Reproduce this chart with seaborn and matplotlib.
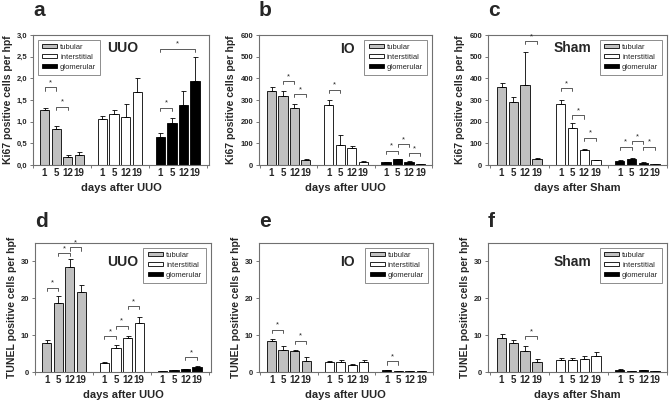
import matplotlib
matplotlib.use("Agg")
import matplotlib.pyplot as plt
import numpy as np
import pandas as pd
import seaborn as sns

sns.set_style("ticks")
plt.rcParams["font.family"] = ["Liberation Sans", "DejaVu Sans"]

DAYS = ["1", "5", "12", "19"]
CELLS = ["tubular", "interstitial", "glomerular"]
COLORS = {"tubular": "#c0c0c0", "interstitial": "#ffffff", "glomerular": "#000000"}

# mean values per cell type (tubular, interstitial, glomerular), days 1/5/12/19
ki67_uuo = [[1.26, 0.84, 0.18, 0.23], [1.07, 1.17, 1.12, 1.69], [0.64, 0.97, 1.39, 1.94]]
ki67_uuo_err = [[0.06, 0.05, 0.05, 0.06], [0.07, 0.09, 0.28, 0.33], [0.09, 0.11, 0.31, 0.56]]
ki67_io = [[341, 318, 262, 22], [275, 93, 78, 15], [12, 27, 14, 3]]
ki67_io_err = [[20, 22, 20, 4], [25, 47, 10, 3], [2, 3, 3, 1]]
ki67_sham = [[360, 289, 368, 27], [280, 172, 68, 22], [18, 28, 11, 3]]
ki67_sham_err = [[20, 24, 152, 5], [22, 22, 8, 3], [3, 3, 2, 1]]
tunel_uuo = [[7.9, 18.8, 28.6, 21.8], [2.5, 6.5, 9.2, 13.2], [0.3, 0.5, 0.7, 1.3]]
tunel_uuo_err = [[0.9, 1.8, 2.0, 1.8], [0.3, 0.8, 0.7, 1.6], [0.05, 0.1, 0.1, 0.3]]
tunel_io = [[8.4, 5.9, 5.6, 3.0], [2.7, 2.8, 1.9, 2.8], [0.5, 0.3, 0.15, 0.2]]
tunel_io_err = [[0.6, 1.1, 0.5, 1.0], [0.4, 0.4, 0.2, 0.4], [0.1, 0.1, 0.05, 0.05]]
tunel_sham = [[9.2, 7.9, 5.6, 2.6], [3.3, 3.3, 3.6, 4.3], [0.6, 0.3, 0.5, 0.2]]
tunel_sham_err = [[1.2, 0.9, 1.4, 1.0], [0.5, 0.5, 0.7, 1.1], [0.1, 0.1, 0.1, 0.1]]

# significance brackets: (cell index, day index 1, day index 2, height)
sig_a = [(0, 0, 1, 1.79), (0, 1, 2, 1.35), (2, 0, 1, 1.32), (2, 0, 3, 2.69)]
sig_b = [(0, 1, 2, 388), (0, 2, 3, 328), (1, 0, 1, 348), (2, 0, 1, 66), (2, 1, 2, 97), (2, 2, 3, 55)]
sig_c = [(0, 2, 3, 572), (1, 0, 1, 355), (1, 1, 2, 229), (1, 2, 3, 126),
         (2, 0, 1, 84), (2, 1, 2, 110), (2, 2, 3, 84)]
sig_d = [(0, 0, 1, 22.9), (0, 1, 2, 32.3), (0, 2, 3, 33.8), (1, 0, 1, 9.7),
         (1, 1, 2, 12.6), (1, 2, 3, 17.9), (2, 2, 3, 4.0)]
sig_e = [(0, 0, 1, 11.5), (0, 2, 3, 8.5), (2, 0, 1, 2.9)]
sig_f = [(0, 2, 3, 9.7)]


def positions(ci, di):
    return ci * 5 + di


def make_df(vals, errs):
    rows = []
    for ci, cell in enumerate(CELLS):
        for di, day in enumerate(DAYS):
            rows.append({"pos": positions(ci, di), "cell": cell, "day": day,
                         "value": vals[ci][di], "err": errs[ci][di]})
    return pd.DataFrame(rows)


def draw_bracket(ax, x1, x2, y, leg):
    ax.plot([x1, x1, x2, x2], [y - leg, y, y, y - leg], color="#404040", lw=0.6)
    ax.text((x1 + x2) / 2, y + leg * 0.3, "*", ha="center", va="bottom", fontsize=5.5)


panels = [
    ("a", [0.0493, 0.5885, 0.263, 0.324], ki67_uuo, ki67_uuo_err, sig_a, "UUO", "UUO",
     "Ki67 positive cells per hpf", (0, 3.0), np.arange(0, 3.01, 0.5), "upper left",
     (-1.0, 14.2), (0.51, 0.9)),
    ("b", [0.387, 0.5885, 0.2586, 0.324], ki67_io, ki67_io_err, sig_b, "IO", "UUO",
     "Ki67 positive cells per hpf", (0, 600), np.arange(0, 601, 100), "upper right",
     (-1.1, 13.6), (0.51, 0.89)),
    ("c", [0.7294, 0.5885, 0.2676, 0.324], ki67_sham, ki67_sham_err, sig_c, "Sham", "Sham",
     "Ki67 positive cells per hpf", (0, 600), np.arange(0, 601, 100), "upper right",
     (-1.15, 13.85), (0.47, 0.9)),
    ("d", [0.0523, 0.0723, 0.263, 0.3217], tunel_uuo, tunel_uuo_err, sig_d, "UUO", "UUO",
     "TUNEL positive cells per hpf", (0, 35), [0, 10, 20, 30], "upper right",
     (-1.0, 14.2), (0.5, 0.85)),
    ("e", [0.387, 0.0723, 0.26, 0.3217], tunel_io, tunel_io_err, sig_e, "IO", "UUO",
     "TUNEL positive cells per hpf", (0, 35), [0, 10, 20, 30], "upper right",
     (-1.1, 13.6), (0.51, 0.85)),
    ("f", [0.7294, 0.0723, 0.2676, 0.3217], tunel_sham, tunel_sham_err, sig_f, "Sham", "Sham",
     "TUNEL positive cells per hpf", (0, 35), [0, 10, 20, 30], "upper right",
     (-1.15, 13.85), (0.47, 0.85)),
]

fig = plt.figure(figsize=(6.69, 4.01), dpi=100)

for letter, rect, vals, errs, sigs, title, xname, ylab, ylim, yticks, legloc, xlim, tpos in panels:
    ax = fig.add_axes(rect)
    df = make_df(vals, errs)
    sns.barplot(data=df, x="pos", y="value", hue="cell", palette=COLORS,
                hue_order=CELLS, native_scale=True, dodge=False, width=0.8,
                errorbar=None, edgecolor="black", linewidth=0.6, ax=ax)
    ax.errorbar(df["pos"], df["value"], yerr=[np.zeros(len(df)), df["err"]],
                fmt="none", ecolor="black", elinewidth=0.6, capsize=1.8, capthick=0.6)

    leg = (ylim[1] - ylim[0]) * 0.025
    for ci, d1, d2, y in sigs:
        draw_bracket(ax, positions(ci, d1), positions(ci, d2), y, leg)

    ax.set_xlim(*xlim)
    ax.set_ylim(*ylim)
    ax.set_yticks(yticks)
    if letter == "a":
        ax.set_yticklabels([f"{t:.1f}".replace(".", ",") for t in yticks])
    else:
        ax.set_yticklabels([str(int(t)) for t in yticks])
    ax.set_xticks(df["pos"])
    ax.set_xticklabels(df["day"])
    ax.set_xticks([-1, 4, 9, 14], minor=True)
    ax.tick_params(axis="x", which="major", length=0, labelsize=7, pad=2.5)
    ax.tick_params(axis="x", which="minor", length=2, width=0.6, color="#606060")
    ax.tick_params(axis="y", length=2.5, width=0.6, labelsize=5.5, pad=1.5, color="#606060")
    for lab in ax.get_xticklabels() + ax.get_yticklabels():
        lab.set_fontweight("bold")
    for sp in ax.spines.values():
        sp.set_visible(True)
        sp.set_color("#707070")
        sp.set_linewidth(0.8)

    ax.set_xlabel(f"days after {xname}", fontsize=8, fontweight="bold", labelpad=3)
    ax.set_ylabel(ylab, fontsize=7.5, fontweight="bold", labelpad=3)

    handles, labels = ax.get_legend_handles_labels()
    lg = ax.legend(handles, labels, loc=legloc, fontsize=5.5, frameon=True, fancybox=False,
                   handlelength=2.0, handleheight=0.35, borderpad=0.55, labelspacing=0.4,
                   handletextpad=0.4, borderaxespad=0.6)
    lg.get_frame().set_edgecolor("#707070")
    lg.get_frame().set_linewidth(0.7)

    ax.text(tpos[0], tpos[1], title, transform=ax.transAxes, fontsize=10, fontweight="bold",
            ha="center", va="center")

    dy = 0.062 if rect[1] > 0.5 else 0.053
    fig.text(rect[0], rect[1] + rect[3] + dy, letter, fontsize=15,
             fontweight="bold", ha="left", va="center")

fig.savefig("out.png", dpi=100)
